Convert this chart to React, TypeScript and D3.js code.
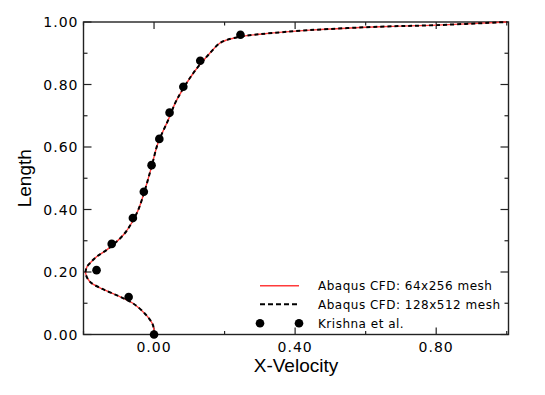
import React, { useEffect, useRef } from 'react';
import * as d3 from 'd3';

// profile along the cavity centreline: length (y) vs x-velocity
const lengthCoarse = [0.000, 0.030, 0.062, 0.100, 0.121, 0.145, 0.169, 0.196, 0.217, 0.228, 0.249, 0.270, 0.292, 0.324, 0.356, 0.398, 0.462, 0.537, 0.612, 0.686, 0.750, 0.836, 0.900, 0.932, 0.942, 0.953, 0.961, 0.974, 0.985, 0.990, 1.000];
const velocityCoarse = [0.000, -0.003, -0.022, -0.060, -0.097, -0.145, -0.182, -0.194, -0.190, -0.182, -0.163, -0.135, -0.111, -0.083, -0.064, -0.045, -0.026, -0.007, 0.011, 0.040, 0.064, 0.111, 0.158, 0.186, 0.205, 0.245, 0.300, 0.442, 0.640, 0.801, 1.000];

const lengthFine = [0.000, 0.030, 0.062, 0.100, 0.121, 0.145, 0.169, 0.196, 0.217, 0.228, 0.249, 0.270, 0.292, 0.324, 0.356, 0.398, 0.462, 0.537, 0.612, 0.686, 0.750, 0.836, 0.900, 0.932, 0.942, 0.953, 0.961, 0.974, 0.985, 0.990, 1.000];
const velocityFine = [0.000, -0.003, -0.022, -0.060, -0.097, -0.145, -0.182, -0.194, -0.190, -0.182, -0.163, -0.135, -0.111, -0.083, -0.064, -0.045, -0.026, -0.007, 0.011, 0.040, 0.064, 0.111, 0.158, 0.186, 0.205, 0.245, 0.300, 0.442, 0.640, 0.801, 1.000];

const lengthKrishna = [0.000, 0.120, 0.206, 0.290, 0.373, 0.457, 0.542, 0.626, 0.710, 0.793, 0.876, 0.959];
const velocityKrishna = [0.000, -0.072, -0.163, -0.120, -0.060, -0.029, -0.007, 0.015, 0.044, 0.083, 0.131, 0.245];

const xMajorTicks = [0.0, 0.4, 0.8];
const xMinorTicks = [-0.2, 0.2, 0.6, 1.0];
const yMajorTicks = [0.0, 0.2, 0.4, 0.6, 0.8, 1.0];
const yMinorTicks = [0.1, 0.3, 0.5, 0.7, 0.9];

const legendLabels = ['Abaqus CFD: 64x256 mesh', 'Abaqus CFD: 128x512 mesh', 'Krishna et al.'];

const tickFont = '"DejaVu Sans", sans-serif';
const titleFont = '"Liberation Sans", Arial, sans-serif';

export default function App() {
  const ref = useRef<SVGSVGElement>(null);

  useEffect(() => {
    const left = 83.5, right = 508.5, top = 22, bottom = 334.5;

    const svg = d3.select(ref.current);
    svg.selectAll('*').remove();

    const x = d3.scaleLinear().domain([-0.2, 1.005]).range([left, right]);
    const y = d3.scaleLinear().domain([0, 1]).range([bottom, top]);

    // ticks, pointing inward on all four sides
    const g = svg.append('g');
    const tick = (x1: number, y1: number, x2: number, y2: number) =>
      g.append('line').attr('x1', x1).attr('y1', y1).attr('x2', x2).attr('y2', y2)
        .attr('stroke', '#222').attr('stroke-width', 1.2);

    xMajorTicks.forEach(v => { tick(x(v), bottom, x(v), bottom - 7); tick(x(v), top, x(v), top + 7); });
    xMinorTicks.forEach(v => { tick(x(v), bottom, x(v), bottom - 3.5); tick(x(v), top, x(v), top + 3.5); });
    yMajorTicks.forEach(v => { tick(left, y(v), left + 8, y(v)); tick(right, y(v), right - 8, y(v)); });
    yMinorTicks.forEach(v => { tick(left, y(v), left + 4, y(v)); tick(right, y(v), right - 4, y(v)); });

    g.append('rect')
      .attr('x', left).attr('y', top)
      .attr('width', right - left).attr('height', bottom - top)
      .attr('fill', 'none').attr('stroke', '#222').attr('stroke-width', 1.4);

    // tick labels
    g.selectAll('.xl').data(xMajorTicks).enter().append('text')
      .attr('x', d => x(d)).attr('y', bottom + 17)
      .attr('text-anchor', 'middle')
      .style('font-family', tickFont).style('font-size', '14px').style('letter-spacing', '1px')
      .text(d => d3.format('.2f')(d));

    g.selectAll('.yl').data(yMajorTicks).enter().append('text')
      .attr('x', left - 5).attr('y', d => y(d) + 5)
      .attr('text-anchor', 'end')
      .style('font-family', tickFont).style('font-size', '14px').style('letter-spacing', '1px')
      .text(d => d3.format('.2f')(d));

    // axis titles
    svg.append('text')
      .attr('x', (left + right) / 2).attr('y', 372)
      .attr('text-anchor', 'middle')
      .style('font-family', titleFont).style('font-size', '19px')
      .text('X-Velocity');

    svg.append('text')
      .attr('transform', 'translate(31,' + (top + bottom) / 2 + ') rotate(-90)')
      .attr('text-anchor', 'middle')
      .style('font-family', titleFont).style('font-size', '19px')
      .text('Length');

    // lines
    const coarse = lengthCoarse.map((l, i) => [x(velocityCoarse[i]), y(l)] as [number, number]);
    const fine = lengthFine.map((l, i) => [x(velocityFine[i]), y(l)] as [number, number]);
    const path = d3.line().curve(d3.curveCatmullRom.alpha(0.5));

    svg.append('path')
      .attr('d', path(coarse))
      .attr('fill', 'none').attr('stroke', '#ff3b3b').attr('stroke-width', 1.4);

    svg.append('path')
      .attr('d', path(fine))
      .attr('fill', 'none').attr('stroke', '#000').attr('stroke-width', 2)
      .attr('stroke-dasharray', '4,3');

    svg.selectAll('.pt').data(lengthKrishna).enter().append('circle')
      .attr('cx', (d, i) => x(velocityKrishna[i]))
      .attr('cy', d => y(d))
      .attr('r', 4.3).attr('fill', '#000');

    // legend
    const lg = svg.append('g');
    const rowY = [285.7, 304.3, 323.3];
    const lx0 = 260, lx1 = 299, tx = 318;

    lg.append('line').attr('x1', lx0).attr('x2', lx1).attr('y1', rowY[0]).attr('y2', rowY[0])
      .attr('stroke', '#ff3b3b').attr('stroke-width', 1.4);
    lg.append('line').attr('x1', lx0).attr('x2', lx1).attr('y1', rowY[1]).attr('y2', rowY[1])
      .attr('stroke', '#000').attr('stroke-width', 2).attr('stroke-dasharray', '5,3');
    lg.append('circle').attr('cx', lx0).attr('cy', rowY[2]).attr('r', 4.3).attr('fill', '#000');
    lg.append('circle').attr('cx', lx1).attr('cy', rowY[2]).attr('r', 4.3).attr('fill', '#000');

    lg.selectAll('text').data(legendLabels).enter().append('text')
      .attr('x', tx).attr('y', (d, i) => rowY[i] + 4.5)
      .style('font-family', tickFont).style('font-size', '12px').style('letter-spacing', '0.5px')
      .text(d => d);
  }, []);

  return (
    <svg ref={ref} width={545} height={395}
      style={{ position: 'absolute', left: 0, top: 0, background: '#fff' }} />
  );
}
